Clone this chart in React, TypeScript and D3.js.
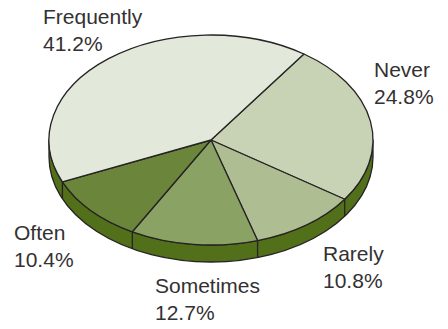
import React from "react";
import * as d3 from "d3";

const categories = ["Never", "Rarely", "Sometimes", "Often", "Frequently"];
const percents = [24.8, 10.8, 12.7, 10.4, 41.2];
const colors = ["#c8d3b5", "#afbd92", "#8ba265", "#6b853a", "#e2e8da"];
const labelX = [374, 323, 155, 14, 43];
const labelY = [77, 261, 293, 240, 24];

const W = 448, H = 329;
const cx = 211, cy = 140, rx = 162, ry = 105, depth = 17;
const startDeg = 35;
const stroke = "#262324";

const sx = d3.scaleLinear().domain([-1, 1]).range([cx - rx, cx + rx]);
const sy = d3.scaleLinear().domain([-1, 1]).range([cy - ry, cy + ry]);

const slices = d3.pie<number>().sort(null)
  .startAngle((startDeg * Math.PI) / 180)
  .endAngle((startDeg * Math.PI) / 180 + 2 * Math.PI)(percents);

const px = (a: number) => sx(Math.sin(a));
const py = (a: number) => sy(-Math.cos(a));

function slicePath(a0: number, a1: number) {
  const large = a1 - a0 > Math.PI ? 1 : 0;
  return `M${cx},${cy}L${px(a0)},${py(a0)}A${rx},${ry} 0 ${large} 1 ${px(a1)},${py(a1)}Z`;
}

const sidePath =
  `M${cx + rx},${cy}A${rx},${ry} 0 0 1 ${cx - rx},${cy}` +
  `L${cx - rx},${cy + depth}A${rx},${ry} 0 0 0 ${cx + rx},${cy + depth}Z`;

export default function App() {
  const edges = slices.map((s) => s.startAngle).filter((a) => {
    const n = ((a % (2 * Math.PI)) + 2 * Math.PI) % (2 * Math.PI);
    return n > Math.PI / 2 && n < (3 * Math.PI) / 2;
  });
  return (
    <svg width={W} height={H} style={{ position: "absolute", left: 0, top: 0, background: "#fff" }}>
      <path d={sidePath} fill="#526f19" stroke={stroke} strokeWidth={1.3} strokeLinejoin="round" />
      {edges.map((a, i) => (
        <line key={i} x1={px(a)} y1={py(a)} x2={px(a)} y2={py(a) + depth} stroke={stroke} strokeWidth={1.3} />
      ))}
      {slices.map((s, i) => (
        <path key={i} d={slicePath(s.startAngle, s.endAngle)} fill={colors[i]} stroke={stroke} strokeWidth={1.3} strokeLinejoin="round" />
      ))}
      <g fontFamily="'Liberation Sans', Arial, sans-serif" fontSize={21} fill="#333132">
        {categories.map((c, i) => (
          <g key={c}>
            <text x={labelX[i]} y={labelY[i]}>{c}</text>
            <text x={labelX[i]} y={labelY[i] + 26.5}>{percents[i].toFixed(1)}%</text>
          </g>
        ))}
      </g>
    </svg>
  );
}
